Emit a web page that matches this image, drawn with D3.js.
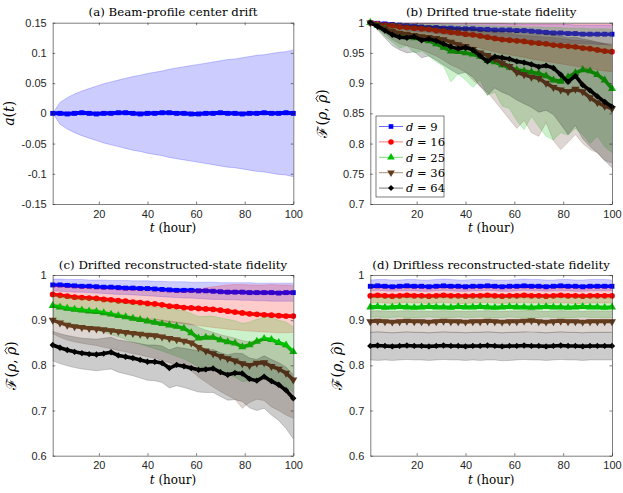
<!DOCTYPE html>
<html><head><meta charset="utf-8">
<script src="https://cdn.jsdelivr.net/npm/d3@7"></script>
<style>body{margin:0;background:#fff}svg{display:block}</style>
</head><body>
<svg id="c" width="623" height="493"></svg>
<script>
// ---------- DATA ----------
const tHours = [1,4,7,10,13,16,19,22,25,28,31,34,37,40,43,46,49,52,55,58,61,64,67,70,73,76,79,82,85,88,91,94,97,100];
const xTicks = [20,40,60,80,100];
const aYTicks = [-0.15,-0.1,-0.05,0,0.05,0.1,0.15];
const aYLabels = ['-0.15','-0.1','-0.05','0','0.05','0.1','0.15'];
const bYTicks = [0.7,0.75,0.8,0.85,0.9,0.95,1];
const bYLabels = ['0.7','0.75','0.8','0.85','0.9','0.95','1'];
const cdYTicks = [0.6,0.7,0.8,0.9,1];
const cdYLabels = ['0.6','0.7','0.8','0.9','1'];
const dims = ['9','16','25','36','64'];
const titles = ['(a) Beam-profile center drift','(b) Drifted true-state fidelity','(c) Drifted reconstructed-state fidelity','(d) Driftless reconstructed-state fidelity'];

// (a) beam-profile centre drift a(t): mean and band
const aMean = [0,0,-0.001,0,0.001,0,-0.001,0,0,0.001,0.001,0,-0.001,0,0,0.001,0.001,0,0,-0.001,-0.001,0,0,0.001,0,0,-0.001,0,0,0.001,0,0,0.001,0];
const aHigh = [0,0.018,0.026,0.032,0.037,0.041,0.045,0.049,0.052,0.055,0.058,0.061,0.063,0.066,0.068,0.070,0.073,0.075,0.077,0.079,0.081,0.083,0.085,0.087,0.089,0.090,0.092,0.094,0.096,0.097,0.099,0.101,0.102,0.105];
const aLow = [0,-0.018,-0.026,-0.032,-0.037,-0.041,-0.045,-0.049,-0.052,-0.055,-0.058,-0.061,-0.063,-0.066,-0.068,-0.070,-0.073,-0.075,-0.077,-0.079,-0.081,-0.083,-0.085,-0.087,-0.089,-0.090,-0.092,-0.094,-0.096,-0.097,-0.099,-0.101,-0.102,-0.105];

// (b) drifted true-state fidelity
const bMean9 = [1.000,0.999,0.998,0.997,0.996,0.995,0.994,0.993,0.992,0.992,0.991,0.991,0.990,0.990,0.990,0.989,0.989,0.988,0.988,0.988,0.987,0.987,0.986,0.985,0.984,0.983,0.983,0.982,0.982,0.981,0.981,0.981,0.981,0.981];
const bLow9 = [1.000,0.997,0.994,0.992,0.990,0.988,0.986,0.985,0.984,0.982,0.981,0.980,0.979,0.978,0.977,0.976,0.975,0.974,0.974,0.973,0.972,0.972,0.971,0.970,0.969,0.968,0.967,0.966,0.966,0.965,0.965,0.964,0.964,0.963];
const bHigh9 = [1.000,1.000,1.000,0.999,0.999,0.999,0.999,0.999,0.999,0.999,0.998,0.998,0.998,0.998,0.998,0.998,0.998,0.998,0.998,0.998,0.998,0.997,0.997,0.997,0.997,0.997,0.997,0.997,0.996,0.996,0.996,0.996,0.996,0.996];
const bMean16 = [1.000,0.998,0.996,0.995,0.993,0.992,0.991,0.990,0.989,0.987,0.986,0.984,0.983,0.981,0.980,0.978,0.976,0.974,0.972,0.971,0.970,0.969,0.967,0.966,0.965,0.963,0.962,0.961,0.960,0.958,0.957,0.955,0.953,0.952];
const bLow16 = [1.000,0.995,0.991,0.988,0.985,0.983,0.981,0.979,0.977,0.974,0.972,0.969,0.966,0.963,0.961,0.958,0.955,0.952,0.949,0.947,0.945,0.943,0.940,0.938,0.936,0.934,0.932,0.930,0.928,0.926,0.924,0.922,0.920,0.919];
const bHigh16 = [1.000,1.000,1.000,1.000,0.999,0.999,0.999,0.999,0.999,0.999,0.999,0.999,0.999,0.999,0.999,0.999,0.999,0.999,0.999,0.998,0.998,0.998,0.998,0.998,0.998,0.998,0.998,0.998,0.998,0.998,0.998,0.998,0.998,0.998];
const bMean25 = [1.000,0.995,0.990,0.984,0.980,0.977,0.975,0.973,0.970,0.965,0.959,0.953,0.952,0.950,0.948,0.944,0.937,0.935,0.930,0.926,0.922,0.920,0.918,0.916,0.912,0.905,0.903,0.910,0.917,0.922,0.920,0.914,0.905,0.891];
const bLow25 = [1.000,0.990,0.978,0.968,0.958,0.962,0.950,0.953,0.945,0.935,0.928,0.902,0.915,0.905,0.893,0.905,0.880,0.885,0.862,0.858,0.838,0.823,0.845,0.828,0.812,0.806,0.818,0.814,0.825,0.815,0.800,0.812,0.795,0.785];
const bHigh25 = [1.000,1.000,0.999,0.999,0.999,0.998,0.998,0.998,0.998,0.997,0.997,0.997,0.996,0.996,0.996,0.995,0.995,0.995,0.994,0.994,0.994,0.993,0.993,0.993,0.992,0.992,0.992,0.991,0.991,0.991,0.990,0.990,0.990,0.989];
const bMean36 = [1.000,0.995,0.990,0.986,0.983,0.981,0.979,0.977,0.976,0.974,0.972,0.968,0.964,0.961,0.956,0.950,0.946,0.940,0.933,0.928,0.918,0.914,0.910,0.908,0.900,0.893,0.889,0.886,0.890,0.886,0.876,0.868,0.862,0.858];
const bLow36 = [1.000,0.990,0.982,0.972,0.965,0.962,0.958,0.955,0.950,0.945,0.938,0.930,0.925,0.918,0.905,0.895,0.885,0.870,0.855,0.840,0.825,0.838,0.818,0.812,0.835,0.805,0.790,0.802,0.815,0.800,0.790,0.785,0.772,0.768];
const bHigh36 = [1.000,0.999,0.998,0.997,0.996,0.995,0.994,0.994,0.993,0.992,0.991,0.990,0.989,0.988,0.987,0.986,0.985,0.984,0.983,0.982,0.980,0.979,0.978,0.977,0.976,0.975,0.974,0.972,0.971,0.970,0.969,0.967,0.966,0.965];
const bMean64 = [1.000,0.994,0.987,0.980,0.976,0.975,0.977,0.971,0.973,0.970,0.965,0.960,0.957,0.959,0.955,0.945,0.936,0.944,0.942,0.940,0.936,0.934,0.931,0.927,0.929,0.925,0.914,0.902,0.912,0.897,0.888,0.878,0.869,0.861];
const bLow64 = [1.000,0.988,0.975,0.962,0.955,0.950,0.952,0.942,0.945,0.938,0.930,0.922,0.915,0.918,0.910,0.895,0.880,0.892,0.885,0.880,0.872,0.866,0.860,0.852,0.855,0.848,0.832,0.815,0.830,0.808,0.795,0.785,0.772,0.760];
const bHigh64 = [1.000,0.999,0.998,0.997,0.996,0.996,0.996,0.995,0.995,0.994,0.993,0.992,0.991,0.991,0.990,0.988,0.986,0.987,0.986,0.985,0.984,0.983,0.982,0.981,0.981,0.980,0.978,0.975,0.976,0.973,0.971,0.968,0.965,0.962];

// (c) drifted reconstructed-state fidelity
const cMean9 = [0.978,0.978,0.977,0.976,0.975,0.975,0.974,0.973,0.973,0.972,0.971,0.971,0.970,0.970,0.969,0.968,0.967,0.966,0.966,0.966,0.965,0.965,0.964,0.963,0.962,0.962,0.962,0.961,0.961,0.961,0.961,0.960,0.961,0.961];
const cLow9 = [0.965,0.964,0.963,0.962,0.962,0.961,0.960,0.959,0.958,0.957,0.957,0.956,0.955,0.954,0.953,0.952,0.951,0.950,0.949,0.949,0.948,0.947,0.946,0.946,0.945,0.945,0.944,0.944,0.943,0.943,0.942,0.942,0.942,0.942];
const cHigh9 = [0.991,0.991,0.990,0.990,0.990,0.989,0.989,0.989,0.988,0.988,0.988,0.987,0.987,0.987,0.986,0.986,0.985,0.985,0.985,0.984,0.984,0.984,0.984,0.983,0.983,0.983,0.983,0.983,0.982,0.982,0.982,0.982,0.982,0.982];
const cMean16 = [0.957,0.955,0.953,0.951,0.950,0.949,0.948,0.946,0.945,0.943,0.942,0.940,0.939,0.937,0.936,0.934,0.931,0.930,0.928,0.927,0.926,0.925,0.924,0.922,0.920,0.918,0.916,0.914,0.913,0.912,0.911,0.910,0.909,0.909];
const cLow16 = [0.936,0.934,0.931,0.928,0.926,0.924,0.922,0.919,0.917,0.914,0.912,0.909,0.907,0.904,0.902,0.899,0.896,0.894,0.892,0.890,0.888,0.886,0.884,0.882,0.880,0.879,0.877,0.876,0.875,0.874,0.873,0.872,0.872,0.873];
const cHigh16 = [0.975,0.974,0.973,0.972,0.971,0.970,0.969,0.969,0.968,0.967,0.966,0.966,0.965,0.964,0.963,0.963,0.962,0.962,0.963,0.965,0.968,0.972,0.974,0.976,0.978,0.979,0.979,0.978,0.978,0.978,0.979,0.978,0.978,0.977];
const cMean25 = [0.932,0.929,0.926,0.924,0.922,0.920,0.919,0.916,0.913,0.910,0.907,0.904,0.901,0.898,0.895,0.892,0.889,0.886,0.882,0.872,0.860,0.862,0.862,0.856,0.852,0.849,0.841,0.845,0.853,0.859,0.857,0.850,0.845,0.830];
const cLow25 = [0.905,0.900,0.895,0.890,0.886,0.882,0.878,0.873,0.868,0.863,0.858,0.852,0.847,0.842,0.837,0.832,0.826,0.820,0.814,0.806,0.797,0.796,0.793,0.785,0.779,0.774,0.764,0.766,0.772,0.776,0.770,0.761,0.753,0.740];
const cHigh25 = [0.955,0.953,0.951,0.950,0.948,0.947,0.945,0.943,0.941,0.939,0.937,0.935,0.933,0.931,0.929,0.927,0.925,0.923,0.921,0.915,0.908,0.909,0.909,0.905,0.902,0.899,0.893,0.896,0.902,0.907,0.905,0.900,0.896,0.885];
const cMean36 = [0.900,0.894,0.889,0.886,0.884,0.882,0.881,0.879,0.877,0.875,0.873,0.871,0.869,0.867,0.866,0.863,0.860,0.857,0.854,0.850,0.840,0.832,0.826,0.820,0.815,0.810,0.804,0.800,0.805,0.806,0.798,0.792,0.783,0.768];
const cLow36 = [0.870,0.862,0.856,0.852,0.849,0.846,0.844,0.840,0.837,0.833,0.830,0.826,0.823,0.819,0.816,0.811,0.806,0.800,0.795,0.788,0.774,0.763,0.752,0.742,0.733,0.725,0.705,0.718,0.725,0.722,0.708,0.700,0.690,0.683];
const cHigh36 = [0.930,0.926,0.922,0.920,0.918,0.917,0.916,0.914,0.912,0.910,0.909,0.907,0.905,0.903,0.902,0.900,0.898,0.896,0.894,0.891,0.884,0.878,0.873,0.868,0.864,0.860,0.855,0.852,0.856,0.857,0.851,0.846,0.839,0.828];
const cMean64 = [0.845,0.839,0.834,0.830,0.827,0.825,0.824,0.826,0.829,0.822,0.819,0.816,0.812,0.808,0.808,0.805,0.794,0.801,0.798,0.794,0.790,0.791,0.793,0.785,0.779,0.783,0.782,0.770,0.766,0.775,0.765,0.757,0.745,0.727];
const cLow64 = [0.810,0.804,0.799,0.795,0.792,0.790,0.788,0.790,0.792,0.785,0.781,0.777,0.772,0.767,0.766,0.762,0.750,0.755,0.751,0.746,0.741,0.740,0.740,0.731,0.723,0.724,0.720,0.706,0.700,0.705,0.690,0.678,0.660,0.637];
const cHigh64 = [0.875,0.870,0.866,0.863,0.860,0.859,0.858,0.860,0.862,0.856,0.854,0.851,0.848,0.845,0.845,0.843,0.834,0.840,0.838,0.835,0.832,0.833,0.835,0.828,0.823,0.827,0.826,0.816,0.813,0.821,0.813,0.806,0.796,0.780];

// (d) driftless reconstructed-state fidelity
const dMean9 = [0.975,0.976,0.975,0.974,0.975,0.976,0.975,0.975,0.974,0.975,0.976,0.975,0.975,0.974,0.975,0.975,0.976,0.975,0.974,0.975,0.975,0.976,0.975,0.975,0.974,0.975,0.976,0.975,0.975,0.974,0.975,0.975,0.975,0.975];
const dLow9 = [0.965,0.966,0.965,0.964,0.965,0.965,0.965,0.964,0.964,0.965,0.966,0.965,0.964,0.964,0.965,0.965,0.966,0.965,0.964,0.964,0.965,0.966,0.965,0.965,0.964,0.965,0.965,0.965,0.964,0.964,0.965,0.965,0.965,0.965];
const dHigh9 = [0.989,0.990,0.990,0.989,0.989,0.990,0.990,0.989,0.989,0.990,0.991,0.990,0.989,0.989,0.990,0.990,0.990,0.989,0.989,0.989,0.990,0.991,0.990,0.990,0.989,0.989,0.990,0.990,0.989,0.989,0.990,0.990,0.990,0.989];
const dMean16 = [0.954,0.955,0.954,0.953,0.954,0.955,0.954,0.954,0.953,0.954,0.955,0.954,0.954,0.953,0.954,0.954,0.955,0.954,0.953,0.954,0.954,0.955,0.954,0.954,0.953,0.954,0.955,0.954,0.954,0.953,0.954,0.954,0.954,0.954];
const dLow16 = [0.938,0.939,0.938,0.937,0.938,0.939,0.938,0.938,0.937,0.938,0.939,0.938,0.937,0.937,0.938,0.938,0.939,0.938,0.937,0.938,0.938,0.939,0.938,0.938,0.937,0.938,0.938,0.938,0.937,0.937,0.938,0.938,0.938,0.938];
const dHigh16 = [0.970,0.971,0.970,0.969,0.970,0.971,0.970,0.970,0.969,0.970,0.971,0.970,0.970,0.969,0.970,0.970,0.971,0.970,0.969,0.970,0.970,0.971,0.970,0.970,0.969,0.970,0.971,0.970,0.970,0.969,0.970,0.970,0.970,0.970];
const dMean25 = [0.929,0.930,0.928,0.929,0.930,0.929,0.928,0.929,0.930,0.929,0.929,0.928,0.930,0.929,0.929,0.930,0.929,0.928,0.929,0.930,0.929,0.929,0.928,0.929,0.930,0.929,0.929,0.928,0.929,0.930,0.929,0.929,0.928,0.929];
const dLow25 = [0.906,0.907,0.905,0.906,0.907,0.906,0.905,0.906,0.907,0.906,0.906,0.905,0.907,0.906,0.906,0.907,0.906,0.905,0.906,0.907,0.906,0.906,0.905,0.906,0.907,0.906,0.906,0.905,0.906,0.907,0.906,0.906,0.905,0.906];
const dHigh25 = [0.950,0.951,0.949,0.950,0.951,0.950,0.949,0.950,0.951,0.950,0.950,0.949,0.951,0.950,0.950,0.951,0.950,0.949,0.950,0.951,0.950,0.950,0.949,0.950,0.951,0.950,0.950,0.949,0.950,0.951,0.950,0.950,0.949,0.950];
const dMean36 = [0.897,0.898,0.897,0.896,0.897,0.898,0.897,0.897,0.896,0.897,0.898,0.897,0.897,0.896,0.897,0.897,0.898,0.897,0.896,0.897,0.897,0.898,0.899,0.897,0.896,0.897,0.898,0.897,0.897,0.896,0.897,0.897,0.897,0.897];
const dLow36 = [0.873,0.874,0.873,0.872,0.873,0.874,0.873,0.873,0.872,0.873,0.874,0.873,0.873,0.872,0.873,0.873,0.874,0.873,0.872,0.873,0.873,0.874,0.875,0.873,0.872,0.873,0.874,0.873,0.873,0.872,0.873,0.873,0.873,0.873];
const dHigh36 = [0.920,0.921,0.920,0.919,0.920,0.921,0.920,0.920,0.919,0.920,0.921,0.920,0.920,0.919,0.920,0.920,0.921,0.920,0.919,0.920,0.920,0.921,0.922,0.920,0.919,0.920,0.921,0.920,0.920,0.919,0.920,0.920,0.920,0.920];
const dMean64 = [0.843,0.844,0.843,0.842,0.843,0.844,0.843,0.843,0.842,0.843,0.844,0.843,0.843,0.842,0.843,0.843,0.844,0.843,0.842,0.843,0.843,0.844,0.843,0.843,0.842,0.843,0.844,0.843,0.843,0.842,0.843,0.843,0.843,0.843];
const dLow64 = [0.812,0.811,0.812,0.811,0.812,0.813,0.812,0.812,0.811,0.812,0.813,0.812,0.812,0.811,0.812,0.811,0.812,0.812,0.810,0.811,0.812,0.813,0.812,0.812,0.811,0.812,0.813,0.812,0.812,0.811,0.812,0.812,0.812,0.812];
const dHigh64 = [0.873,0.874,0.873,0.872,0.873,0.874,0.873,0.873,0.872,0.873,0.874,0.873,0.873,0.872,0.873,0.873,0.874,0.873,0.872,0.873,0.873,0.874,0.873,0.873,0.872,0.873,0.874,0.873,0.873,0.872,0.873,0.873,0.873,0.873];

// ---------- STYLE ----------
const solid = ['#0000ff','#ff0000','#00c000','rgb(100,60,30)','#000000'];
const light = ['#6e6eff','#ff7878','#78dc78','#aa9178','#787878'];
const bandCol = ['#0000ff','#ff0000','#00be00','rgb(90,50,30)','#000000'];
const shapes = [
  {s:d3.symbolSquare, size:24, rot:0},
  {s:d3.symbolCircle, size:26, rot:0},
  {s:d3.symbolTriangle, size:28, rot:0},
  {s:d3.symbolTriangle, size:28, rot:180},
  {s:d3.symbolSquare, size:20, rot:45}
];
const AX = '#262626';
const SANS = '"Liberation Sans", Arial, sans-serif';
const SERIF = '"DejaVu Serif", serif';

const svg = d3.select('#c');

function mk(mean, lo, hi){ return {mean, lo, hi}; }
const panels = [
  {x0:52.7,x1:293.3,y0:22.7,y1:204,dom:[-0.15,0.15],yt:aYTicks,yl:aYLabels,title:titles[0],ylabX:14,kind:'a'},
  {x0:370.3,x1:612,y0:22.7,y1:204,dom:[0.7,1],yt:bYTicks,yl:bYLabels,title:titles[1],ylabX:327,legend:true,
   series:[mk(bMean9,bLow9,bHigh9),mk(bMean16,bLow16,bHigh16),mk(bMean25,bLow25,bHigh25),mk(bMean36,bLow36,bHigh36),mk(bMean64,bLow64,bHigh64)]},
  {x0:52.7,x1:293.3,y0:275,y1:455.7,dom:[0.6,1],yt:cdYTicks,yl:cdYLabels,title:titles[2],ylabX:16,
   series:[mk(cMean9,cLow9,cHigh9),mk(cMean16,cLow16,cHigh16),mk(cMean25,cLow25,cHigh25),mk(cMean36,cLow36,cHigh36),mk(cMean64,cLow64,cHigh64)]},
  {x0:370.3,x1:612,y0:275,y1:455.7,dom:[0.6,1],yt:cdYTicks,yl:cdYLabels,title:titles[3],ylabX:342,
   series:[mk(dMean9,dLow9,dHigh9),mk(dMean16,dLow16,dHigh16),mk(dMean25,dLow25,dHigh25),mk(dMean36,dLow36,dHigh36),mk(dMean64,dLow64,dHigh64)]}
];

function markerPath(k, scale){ return d3.symbol().type(shapes[k].s).size(shapes[k].size*(scale||1))(); }

panels.forEach(p => {
  const x = d3.scaleLinear().domain([1,100]).range([p.x0,p.x1]);
  const y = d3.scaleLinear().domain(p.dom).range([p.y1,p.y0]);
  const g = svg.append('g');
  const plot = g.append('g');
  const area = (lo,hi) => d3.area().x((d,j)=>x(tHours[j])).y0((d,j)=>y(lo[j])).y1((d,j)=>y(hi[j]))(lo);
  const line = arr => d3.line().x((d,j)=>x(tHours[j])).y(d=>y(d))(arr);

  if (p.kind === 'a') {
    plot.append('path').attr('d', area(aLow,aHigh)).attr('fill','#0000ff').attr('fill-opacity',0.2);
    [aLow,aHigh].forEach(e=>plot.append('path').attr('d',line(e)).attr('fill','none').attr('stroke','#0000ff').attr('stroke-opacity',0.3).attr('stroke-width',0.7));
    plot.append('path').attr('d',line(aMean)).attr('fill','none').attr('stroke','#0000ff').attr('stroke-width',4);
    plot.selectAll(null).data(aMean).join('path').attr('d',markerPath(0))
      .attr('transform',(d,j)=>`translate(${x(tHours[j])},${y(d)})`).attr('fill','#0000ff');
  } else {
    p.series.forEach((s,k) => {
      plot.append('path').attr('d', area(s.lo,s.hi)).attr('fill',bandCol[k]).attr('fill-opacity',0.2);
      [s.lo,s.hi].forEach(e=>plot.append('path').attr('d',line(e)).attr('fill','none').attr('stroke',bandCol[k]).attr('stroke-opacity',0.25).attr('stroke-width',0.7));
      plot.append('path').attr('d',line(s.mean)).attr('fill','none').attr('stroke',solid[k]).attr('stroke-width',3.6).attr('stroke-linejoin','round');
      plot.selectAll(null).data(s.mean).join('path').attr('d',markerPath(k))
        .attr('transform',(d,j)=>`translate(${x(tHours[j])},${y(d)}) rotate(${shapes[k].rot})`).attr('fill',solid[k]);
    });
  }

  // axes (box with inward ticks on all sides)
  const fmt = (d)=>p.yl[p.yt.indexOf(d)];
  const styleAx = sel => { sel.selectAll('path,line').attr('stroke',AX).attr('stroke-width',0.6);
    sel.selectAll('text').attr('fill',AX).style('font-family',SANS).style('font-size','11px'); };
  g.append('g').attr('transform',`translate(${p.x0},0)`).call(d3.axisLeft(y).tickValues(p.yt).tickFormat(fmt).tickSizeInner(-2.5).tickSizeOuter(0).tickPadding(6)).call(styleAx);
  g.append('g').attr('transform',`translate(${p.x1},0)`).call(d3.axisRight(y).tickValues(p.yt).tickFormat('').tickSizeInner(-2.5).tickSizeOuter(0)).call(styleAx);
  g.append('g').attr('transform',`translate(0,${p.y1})`).call(d3.axisBottom(x).tickValues(xTicks).tickFormat(d3.format('d')).tickSizeInner(-2.5).tickSizeOuter(0).tickPadding(6)).call(styleAx);
  g.append('g').attr('transform',`translate(0,${p.y0})`).call(d3.axisTop(x).tickValues(xTicks).tickFormat('').tickSizeInner(-2.5).tickSizeOuter(0)).call(styleAx);

  const cx = (p.x0+p.x1)/2, cy = (p.y0+p.y1)/2;
  // title
  g.append('text').attr('x',cx).attr('y',p.y0-6.3).attr('text-anchor','middle')
    .style('font-family',SERIF).style('font-size','11.8px').attr('fill','#000').text(p.title);
  // x label
  const xl = g.append('text').attr('x',cx).attr('y',p.y1+28).attr('text-anchor','middle')
    .style('font-family',SERIF).style('font-size','12px').attr('fill','#000');
  xl.append('tspan').style('font-style','italic').text('t');
  xl.append('tspan').text(' (hour)');
  // y label
  const yg = g.append('g').attr('transform',`translate(${p.ylabX},${cy}) rotate(-90)`);
  const fs = 14;
  const yl = yg.append('text').attr('x',0).attr('y',0).attr('text-anchor','middle')
    .style('font-family',SERIF).style('font-size',fs+'px').attr('fill','#000');
  if (p.kind==='a') {
    yl.append('tspan').style('font-style','italic').text('a');
    yl.append('tspan').text('(');
    yl.append('tspan').style('font-style','italic').text('t');
    yl.append('tspan').text(')');
  } else {
    yl.append('tspan').text('ℱ');
    yl.append('tspan').text('(');
    yl.append('tspan').style('font-style','italic').text('ρ');
    yl.append('tspan').text(', ');
    yl.append('tspan').style('font-style','italic').text('ρ');
    yl.append('tspan').text(')');
    const ex = yl.node().getExtentOfChar(5);
    const hx0 = ex.x + ex.width*0.1, hx1 = ex.x + ex.width*0.95;
    yg.append('path').attr('d',`M${hx0},${-0.62*fs} L${(hx0+hx1)/2},${-0.8*fs} L${hx1},${-0.62*fs}`)
      .attr('fill','none').attr('stroke','#000').attr('stroke-width',0.8);
  }

  // legend
  if (p.legend) {
    const lg = g.append('g');
    lg.append('rect').attr('x',376).attr('y',116).attr('width',68).attr('height',81)
      .attr('fill','#fff').attr('stroke',AX).attr('stroke-width',0.6);
    dims.forEach((dv,k) => {
      const ry = 126.5 + k*15.4;
      lg.append('line').attr('x1',379).attr('x2',403).attr('y1',ry).attr('y2',ry).attr('stroke',light[k]).attr('stroke-width',1);
      lg.append('path').attr('d',markerPath(k,0.9)).attr('transform',`translate(391,${ry}) rotate(${shapes[k].rot})`).attr('fill',solid[k]);
      const tx = lg.append('text').attr('x',406).attr('y',ry+4.3).style('font-family',SERIF).style('font-size','11.5px').attr('fill','#000');
      tx.append('tspan').style('font-style','italic').text('d');
      tx.append('tspan').text(' = ' + dv);
    });
  }
});
</script>
</body></html>
